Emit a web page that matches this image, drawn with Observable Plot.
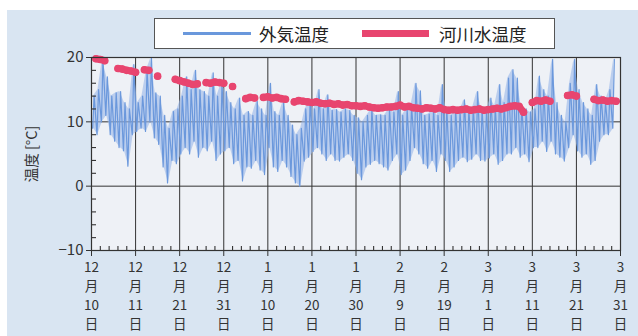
<!DOCTYPE html>
<html>
<head>
<meta charset="utf-8">
<script src="https://cdn.jsdelivr.net/npm/d3@7"></script>
<script src="https://cdn.jsdelivr.net/npm/@observablehq/plot@0.6"></script>
<style>
  body { margin: 0; background: #fff; font-family: "Noto Sans CJK JP", sans-serif; }
  #wrap { position: relative; width: 638px; height: 336px; overflow: hidden; }
  #panel { position: absolute; left: 7px; top: 10px; right: 0; bottom: 0; background: #d9e5f2; }
  #chart { position: absolute; left: 0; top: 40px; }
  #legend { position: absolute; left: 154px; top: 18px; width: 399px; height: 29px;
            border: 1.5px solid #555; background: #fff; color: #222; font-size: 17.5px; }
  #legend .sw { position: absolute; top: 50%; }
  #legend .lb { position: absolute; top: 50%; transform: translateY(-52%); line-height: 1; }
</style>
</head>
<body>
<div id="wrap">
  <div id="panel"></div>
  <div id="chart"></div>
  <div id="legend">
    <span class="sw" style="left:28px;width:68px;height:3px;margin-top:-1.5px;background:#6a98dc"></span>
    <span class="lb" style="left:104px">外気温度</span>
    <span class="sw" style="left:207px;width:67px;height:7px;margin-top:-3.5px;background:#e8456f"></span>
    <span class="lb" style="left:284px">河川水温度</span>
  </div>
</div>
<script>
// Day 0 = first tick; one value per day.
const tickDays = [0, 10, 20, 30, 40, 50, 60, 70, 80, 90, 100, 110, 120];
const tickLabels = [
  "12\n月\n10\n日", "12\n月\n11\n日", "12\n月\n21\n日", "12\n月\n31\n日",
  "1\n月\n10\n日", "1\n月\n20\n日", "1\n月\n30\n日", "2\n月\n9\n日",
  "2\n月\n19\n日", "3\n月\n1\n日", "3\n月\n11\n日", "3\n月\n21\n日", "3\n月\n31\n日"
];
const yTicks = [-10, 0, 10, 20];
const yTitle = "温度 [°C]";

// Outside air: daily high / low (°C), days 0–118
const airHigh = [
  14, 15, 19.6, 17, 14, 14.5, 14.7, 13, 12, 18.9,
  13, 14, 18, 19.9, 14.5, 14, 11, 9, 11.6, 12,
  14, 17, 15, 18, 15, 14.7, 14, 17.6, 14, 16,
  14.7, 13, 12, 13.7, 11, 11.6, 11, 13.2, 12, 11,
  16, 11.6, 11, 13.2, 11, 9.5, 8, 9, 12, 13.2,
  12, 15, 12, 14.2, 11.8, 11.9, 11.5, 12, 11.8, 11,
  10.6, 10, 11, 12, 11, 11.1, 11, 12, 11.5, 14.7,
  11, 12, 12.5, 16, 14.8, 11, 11.2, 12, 11, 15.8,
  12, 11, 12, 11.5, 13.4, 12, 12.2, 14.7, 12, 11.5,
  13.7, 12.5, 15.8, 13, 16.8, 18.1, 16.8, 12.5, 12, 11.5,
  12, 17.1, 15, 14, 19.7, 13, 11, 10, 16, 19.7,
  15, 13, 12, 11, 15.8, 14, 13, 15, 19.7
];
const airLow = [
  9, 8, 10, 11, 8, 7, 6, 5.5, 3.1, 8,
  8.5, 9, 8.5, 10, 7.5, 6.5, 3, 0.5, 4, 3.5,
  5, 6, 5, 7, 4.5, 6, 5.5, 7, 4, 5,
  5.5, 6, 3.5, 4, 0.8, 3, 2.8, 4, 2.5, 1.8,
  6, 3, 2.3, 4, 3, 1.5, 0.5, 0, 3.9, 4.5,
  5.4, 6, 5, 4, 5, 4, 3.9, 4.5, 5, 4,
  2, 1, 3, 3.4, 4, 3.5, 3, 2.5, 4, 5,
  1.8, 2.5, 4, 6, 5, 3.5, 2.8, 4, 2.3, 5,
  4, 2.3, 3, 4, 4.5, 3.8, 4.2, 5, 4, 3.9,
  4.4, 5, 3.4, 4, 5, 5, 6, 4.5, 5, 3.8,
  6, 6, 7, 5.4, 7, 5, 4.5, 3.9, 6, 8,
  5.5, 4.5, 5, 3.4, 4, 7, 8, 8, 9
];

// River water: daily mean (°C), days 0–120, null = no record
const riverTemp = [
  null, 19.8, 19.7, 19.5, null, null, 18.3, 18.2, 18.0, 17.9,
  17.7, null, 18.1, 18.0, null, 17.1, null, null, null, 16.6,
  16.4, 16.2, 16.0, 15.8, 15.9, null, 16.1, 16.0, 16.2, 16.1,
  16.0, null, 15.5, null, null, 13.6, 13.8, 13.7, null, 13.8,
  13.9, 13.7, 13.8, 13.6, 13.5, null, 13.1, 13.3, 13.2, 13.1,
  13.0, 13.1, 12.9, 12.8, 12.9, 12.7, 12.8, 12.6, 12.7, 12.5,
  12.5, 12.4, 12.5, 12.3, 12.2, 12.1, 12.2, 12.3, 12.3, 12.4,
  12.6, 12.3, 12.4, 12.2, 12.1, 12.0, 12.2, 12.1, 12.0, 12.2,
  11.9, 11.8, 11.9, 11.8, 11.9, 12.0, 11.8, 11.9, 12.0, 11.8,
  11.9, 12.0, 12.1, 12.0, 12.2, 12.4, 12.5, 12.4, 11.5, null,
  13.0, 13.3, 13.2, 13.4, 13.2, null, null, null, 14.1, 14.2,
  14.0, null, null, null, 13.5, 13.3, 13.4, 13.2, 13.3, 13.2,
  null
];

// Air trace: the daily low comes early in the day, the high in the afternoon
const air = airHigh.flatMap((hi, d) => [
  {t: d + 0.25, v: airLow[d]},
  {t: d + 0.6, v: hi}
]);
const airRange = airHigh.map((hi, d) => ({t: d + 0.45, lo: airLow[d], hi}));
const river = riverTemp.map((v, d) => ({day: d, temp: v}));
const riverPts = river.filter(r => r.temp != null);

const labelOf = new Map(tickDays.map((d, i) => [d, tickLabels[i]]));
const minorX = d3.range(0, 121, 2).filter(d => !tickDays.includes(d));
const minorY = d3.range(-10, 21, 2).filter(d => !yTicks.includes(d));
const [yMin] = yTicks;
const xMin = tickDays[0];

const ink = "#333";
const chart = Plot.plot({
  width: 638,
  height: 296,
  marginLeft: 91,
  marginRight: 18,
  marginTop: 17,
  marginBottom: 86,
  style: {background: "transparent", fontFamily: "'Noto Sans CJK JP', sans-serif", color: ink},
  x: {domain: [0, 120]},
  y: {domain: [-10, 20]},
  marks: [
    Plot.frame({fill: "#eef1f6", stroke: null}),
    Plot.gridX(tickDays, {stroke: ink, strokeOpacity: 1, strokeWidth: 1}),
    Plot.gridY([0, 10], {stroke: ink, strokeOpacity: 1, strokeWidth: 1}),
    Plot.areaY(airRange, {x: "t", y1: "lo", y2: "hi", fill: "#9ab8ea", fillOpacity: 0.6}),
    Plot.line(air, {x: "t", y: "v", stroke: "#6b98dc", strokeWidth: 1.2}),
    Plot.line(river, {x: "day", y: "temp", stroke: "#e8456f", strokeWidth: 7, strokeLinecap: "round", strokeLinejoin: "round"}),
    Plot.dot(riverPts, {x: "day", y: "temp", r: 3.8, fill: "#e8456f"}),
    Plot.frame({stroke: ink, strokeWidth: 1.2}),
    // inward minor ticks along the bottom and left edges
    Plot.ruleX(minorX, {x: d => d, y1: yMin, y2: yMin, insetTop: -4, stroke: ink, strokeWidth: 1.1}),
    Plot.ruleY(minorY, {y: d => d, x1: xMin, x2: xMin, insetRight: -5, stroke: ink, strokeWidth: 1.1}),
    Plot.axisX(tickDays, {tickSize: 6, tickPadding: 2, tickFormat: d => labelOf.get(d), fontSize: 13.5, lineHeight: 1.4, stroke: ink, label: null}),
    Plot.axisY(yTicks, {tickSize: 5, tickPadding: 3, fontSize: 15, stroke: ink,
      tickFormat: d => d < 0 ? "−" + (-d) : String(d), label: null}),
    // vertical axis title, centred on the left edge of the frame
    Plot.text([yTitle], {frameAnchor: "left", textAnchor: "middle", dx: -59, rotate: -90, fontSize: 14.5, fill: ink, text: d => d})
  ]
});
document.getElementById("chart").append(chart);
</script>
</body>
</html>
